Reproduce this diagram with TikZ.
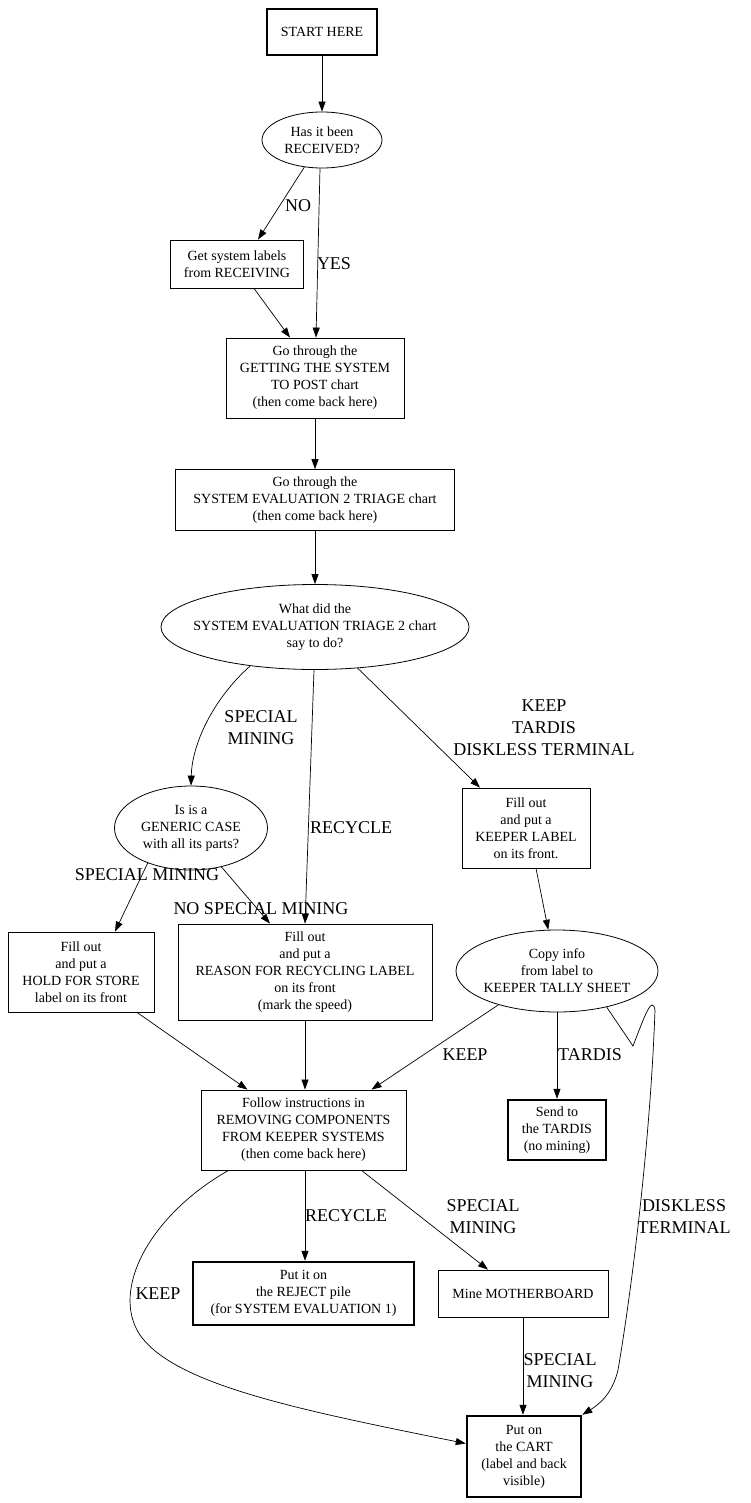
\documentclass[tikz,border=0pt]{standalone}
\usepackage{fontspec}
\setmainfont{Liberation Serif}
\usetikzlibrary{shapes.geometric,arrows.meta}
\newcommand{\boxfont}{\fontsize{14}{17}\selectfont}
\newcommand{\edgefont}{\fontsize{18}{22}\selectfont}

\begin{document}
\begin{tikzpicture}[x=1pt,y=1pt,
    box/.style={draw,align=center,font=\boxfont,inner sep=0pt,line width=0.8pt},
    heavy/.style={box,line width=2.5pt},
    oval/.style={box,ellipse},
    txt/.style={font=\boxfont,align=center},
    arr/.style={line width=0.7pt,-{Triangle[length=10pt,width=7pt]}},
    lab/.style={font=\edgefont,align=center}]

    \fill[white] (0,0) rectangle (751,-1503); % fixes the page size

    % boxes and questions
    \node[heavy,minimum width=110pt,minimum height=46pt] (start) at (322,-32) {START HERE};
    \node[oval,minimum width=120pt,minimum height=56pt,
          label={[txt]center:{Has it been\\RECEIVED?}}] (recv) at (322,-140) {};
    \node[box,minimum width=133pt,minimum height=48pt] (labels) at (237,-264) {Get system labels\\from RECEIVING};
    \node[box,minimum width=178pt,minimum height=80pt] (post) at (315,-378)
        {Go through the\\GETTING THE SYSTEM\\TO POST chart\\(then come back here)};
    \node[box,minimum width=279pt,minimum height=61pt] (triage) at (315,-500)
        {Go through the\\SYSTEM EVALUATION 2 TRIAGE chart\\(then come back here)};
    \node[oval,minimum width=308pt,minimum height=85pt,
          label={[txt]center:{What did the\\SYSTEM EVALUATION TRIAGE 2 chart\\say to do?}}] (what) at (315,-627) {};
    \node[oval,minimum width=153pt,minimum height=84pt,
          label={[txt]center:{Is is a\\GENERIC CASE\\with all its parts?}}] (generic) at (191,-828) {};
    \node[box,minimum width=128pt,minimum height=80pt] (keeper) at (526,-828)
        {Fill out\\and put a\\KEEPER LABEL\\on its front.};
    \node[box,minimum width=146pt,minimum height=80pt] (hold) at (81,-972)
        {Fill out\\and put a\\HOLD FOR STORE\\label on its front};
    \node[box,minimum width=254pt,minimum height=96pt] (reason) at (305,-972)
        {Fill out\\and put a\\REASON FOR RECYCLING LABEL\\on its front\\(mark the speed)};
    \node[oval,minimum width=202pt,minimum height=82pt,
          label={[txt]center:{Copy info\\from label to\\KEEPER TALLY SHEET}}] (copy) at (557,-971) {};
    \node[box,minimum width=205pt,minimum height=80pt] (follow) at (303.5,-1130)
        {Follow instructions in\\REMOVING COMPONENTS\\FROM KEEPER SYSTEMS\\(then come back here)};
    \node[heavy,minimum width=98pt,minimum height=60pt] (tardis) at (557,-1130)
        {Send to\\the TARDIS\\(no mining)};
    \node[heavy,minimum width=221pt,minimum height=63pt] (reject) at (303.5,-1293.5)
        {Put it on\\the REJECT pile\\(for SYSTEM EVALUATION 1)};
    \node[box,minimum width=170pt,minimum height=47pt] (mine) at (523,-1293.5) {Mine MOTHERBOARD};
    \node[heavy,minimum width=114pt,minimum height=81pt] (cart) at (524,-1456.5)
        {Put on\\the CART\\(label and back\\visible)};

    % straight runs down the middle
    \foreach \a/\b in {start/recv, post/triage, triage/what}{
        \draw[arr] (\a) -- (\b);
    }

    \draw[arr] (recv.237) -- ([xshift=21pt]labels.north) node[lab] at (298,-206) {NO};
    \draw[arr] ([xshift=-2pt]recv.south) -- ([xshift=1pt]post.north) node[lab] at (334,-264) {YES};
    \draw[arr] ([xshift=17pt]labels.south) -- ([xshift=-25pt]post.north);

    \draw[arr] (what.211) .. controls (212,-700) and (192,-745) .. (generic.north)
        node[lab] at (261,-728) {SPECIAL\\MINING};
    \draw[arr] ([xshift=-1pt]what.south) -- (reason.north) node[lab] at (351,-828) {RECYCLE};
    \draw[arr] (what.316) -- ([xshift=-46pt]keeper.north)
        node[lab] at (544,-728) {KEEP\\TARDIS\\DISKLESS TERMINAL};

    \draw[arr] (generic.219) -- ([xshift=34pt]hold.north) node[lab] at (147,-875) {SPECIAL MINING};
    \draw[arr] (generic.308) -- ([xshift=-35pt]reason.north) node[lab] at (261,-909) {NO SPECIAL MINING};
    \draw[arr] ([xshift=10pt]keeper.south) -- (copy.102);

    \draw[arr] ([xshift=56pt]hold.south) -- ([xshift=-56pt]follow.north);
    \draw[arr] (reason.south) -- ([xshift=1.5pt]follow.north);
    \draw[arr] (copy.210) -- ([xshift=68pt]follow.north) node[lab] at (465,-1055) {KEEP};
    \draw[arr] (copy.south) -- (tardis.north) node[lab] at (590,-1055) {TARDIS};
    \draw[arr] (copy.324) -- (633,-1046) .. controls (645,-1015) and (652,-995) .. (655,-1010)
        .. controls (650,-1150) and (630,-1300) .. (618,-1370)
        .. controls (612,-1395) and (598,-1405) .. (cart.north east)
        node[lab] at (684,-1217) {DISKLESS\\TERMINAL};

    \draw[arr] ([xshift=1.5pt]follow.south) -- ([xshift=1.5pt]reject.north) node[lab] at (346,-1216) {RECYCLE};
    \draw[arr] ([xshift=58pt]follow.south) -- ([xshift=-35pt]mine.north) node[lab] at (483,-1217) {SPECIAL\\MINING};
    \draw[arr] ([xshift=-75pt]follow.south) .. controls (150,-1215) and (110,-1290) .. (140,-1335)
        .. controls (175,-1385) and (300,-1410) .. ([yshift=13pt]cart.west)
        node[lab] at (158,-1294) {KEEP};
    \draw[arr] (mine.south) -- ([xshift=-1pt]cart.north) node[lab] at (560,-1371) {SPECIAL\\MINING};
\end{tikzpicture}
\end{document}
